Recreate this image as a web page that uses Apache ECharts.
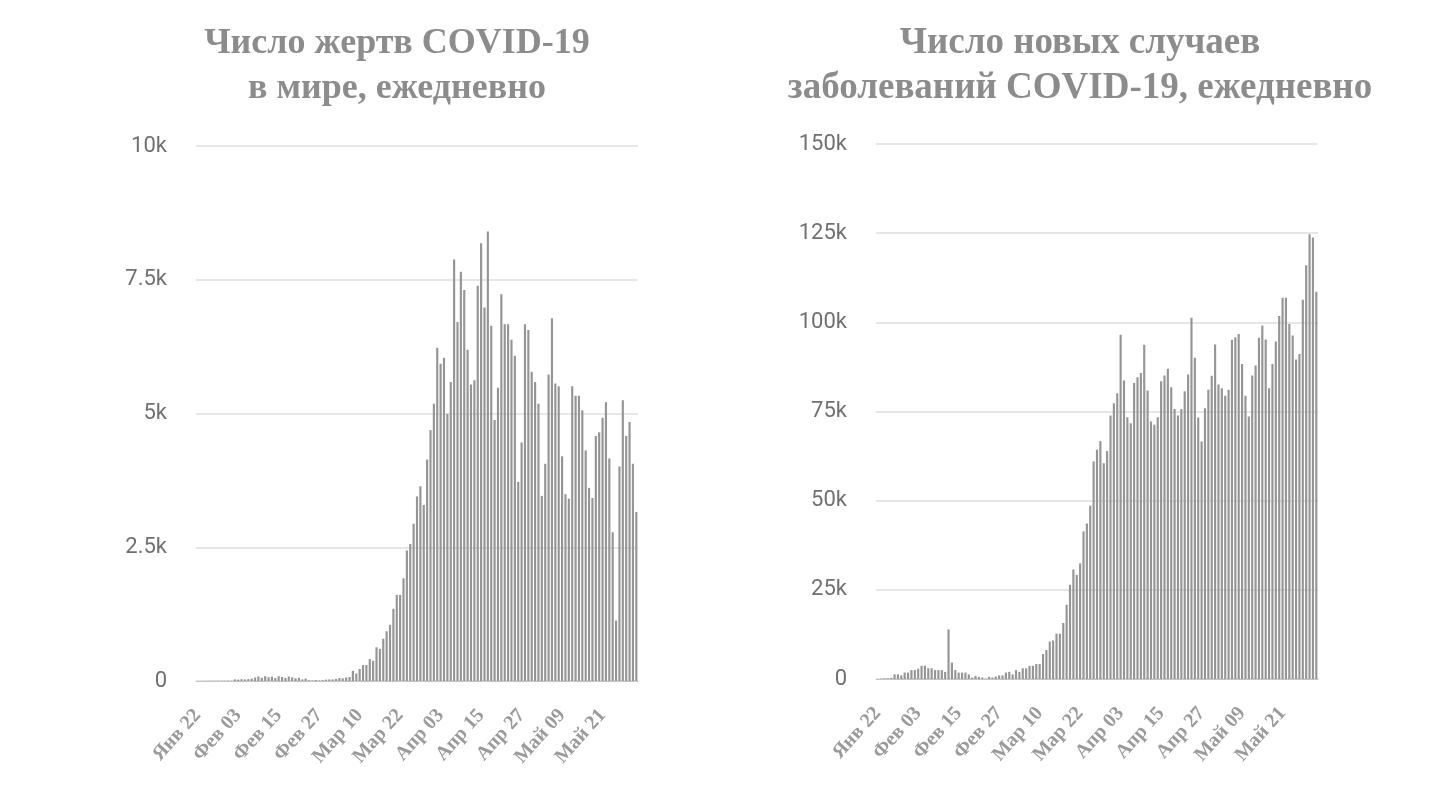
<!DOCTYPE html>
<html><head><meta charset="utf-8">
<script src="https://cdn.jsdelivr.net/npm/echarts@6/dist/echarts.min.js"></script>
<style>html,body{margin:0;padding:0;background:#fff}#c{width:1440px;height:805px}</style>
</head><body><div id="c"></div>
<script>
const monthNames = ['Янв','Фев','Мар','Апр','Май'];
const startDate = [2020, 0, 22];
const dayCount = 131;

const deaths = [
  0, 1, 2, 3, 3, 4, 4, 5, 5, 6, 6,
  30, 25, 35, 30, 35, 45,
  65, 85, 60, 90, 70, 80, 55, 90, 75, 60, 85, 70, 50,
  60, 30, 45,
  15, 10, 20, 10, 15,
  25, 30, 30, 40, 55, 50, 65,
  75, 190, 140, 225, 300, 300, 410, 380, 630, 600, 790, 930, 1050, 1350, 1610,
  1610, 1920, 2440, 2560, 2940, 3450, 3640, 3290, 4140, 4690, 5180, 6230, 5930, 6040, 4990,
  5590, 7880, 6710, 7650, 7310, 6190, 5540, 5620, 7390, 8180, 6980, 8400, 6640, 4880, 5480,
  7230, 6670, 6670, 6380, 6080, 3720, 4460, 6670, 6560, 5780, 5590, 5180, 3460, 4060, 5730,
  6780, 5560, 5510, 4200, 3490, 3410, 5510, 5330, 5330, 5060, 4310, 3610, 3420, 4580, 4650,
  4920, 5210, 4160, 2780, 1130, 4010, 5250, 4580, 4840, 4060, 3160
];

const cases = [
  0, 100, 200, 200, 300,
  1300, 1300, 1000, 1800, 1800, 2500, 2500, 2900, 3700, 3700, 3000, 3000, 2500, 2500, 2500,
  2000, 13900, 4600, 2500, 1800, 1800, 1800, 1300, 400, 850, 600, 400, 100, 600, 400,
  700, 1000, 1000, 1800, 2000, 1300, 2500, 2000, 3000, 3000, 3700, 3700, 4200, 4200, 7000,
  8100, 10500, 10800, 12700, 12700, 15700, 20800, 26400, 30700, 29200, 32400,
  41400, 43600, 48600, 61000, 64300, 66700, 60500, 63900, 73900, 77300, 80100, 96500, 83700, 73400, 71700,
  83000, 84600, 85800, 93700, 80900, 72200, 71300, 73400, 83500, 85100, 87000, 81800, 75700, 73900, 75700,
  80700, 85400,
  101300, 90100, 73300, 66600, 75900, 81100, 85000, 93800, 82600, 81500,
  79400, 81100, 95100, 95800, 96700, 88300, 79400, 73600, 85100, 87900,
  95700, 99100, 95200, 81500, 88300, 94600, 101800, 106900, 106900, 99500,
  96300, 89600, 91100, 106300, 116000, 124700, 123800, 108600
];

const leftTicks = [0, 2500, 5000, 7500, 10000];
const rightTicks = [0, 25000, 50000, 75000, 100000, 125000, 150000];

const titles = ['Число жертв COVID-19\nв мире, ежедневно', 'Число новых случаев\nзаболеваний COVID-19, ежедневно'];

const categories = [];
for (let k = 0; k < dayCount; k++) {
  const d = new Date(startDate[0], startDate[1], startDate[2] + k);
  categories.push(monthNames[d.getMonth()] + ' ' + String(d.getDate()).padStart(2, '0'));
}

const serifFont = '"Liberation Serif", "DejaVu Serif", serif';
const fmt = v => v === 0 ? '0' : (v / 1000) + 'k';

function xAxis(gi) {
  return {
    type: 'category', gridIndex: gi, data: categories,
    axisTick: { show: false },
    axisLine: { lineStyle: { color: '#b9c7d8', width: 1 } },
    axisLabel: { interval: 11, rotate: 48, margin: 31, color: '#9a9a9a',
      fontFamily: serifFont, fontWeight: 'bold', fontSize: 20 }
  };
}
function yAxis(gi, max, interval) {
  return {
    type: 'value', gridIndex: gi, min: 0, max: max, interval: interval,
    axisLine: { show: false }, axisTick: { show: false },
    splitLine: { lineStyle: { color: '#dedede', width: 1.5 } },
    axisLabel: { formatter: fmt, color: '#707070', fontFamily: 'Roboto, sans-serif', fontSize: 22, margin: 29 }
  };
}

const chart = echarts.init(document.getElementById('c'));
chart.setOption({
  animation: false,
  graphic: [
    { type: 'text', x: 397, y: 21, style: { text: titles[0], align: 'center', textAlign: 'center',
      fontFamily: serifFont, fontWeight: 'bold', fontSize: 36, lineHeight: 45, fill: '#8c8c8c' } },
    { type: 'text', x: 1080, y: 21, style: { text: titles[1], align: 'center', textAlign: 'center',
      fontFamily: serifFont, fontWeight: 'bold', fontSize: 37, lineHeight: 45, fill: '#8c8c8c' } }
  ],
  grid: [
    { left: 196, right: 802, top: 146, bottom: 124 },
    { left: 876, right: 122, top: 144, bottom: 126 }
  ],
  xAxis: [xAxis(0), xAxis(1)],
  yAxis: [yAxis(0, leftTicks[leftTicks.length - 1], leftTicks[1]), yAxis(1, rightTicks[rightTicks.length - 1], rightTicks[1])],
  series: [
    { type: 'bar', xAxisIndex: 0, yAxisIndex: 0, data: deaths, barWidth: '64%', itemStyle: { color: '#959595' } },
    { type: 'bar', xAxisIndex: 1, yAxisIndex: 1, data: cases, barWidth: '64%', itemStyle: { color: '#959595' } }
  ]
});
</script></body></html>
